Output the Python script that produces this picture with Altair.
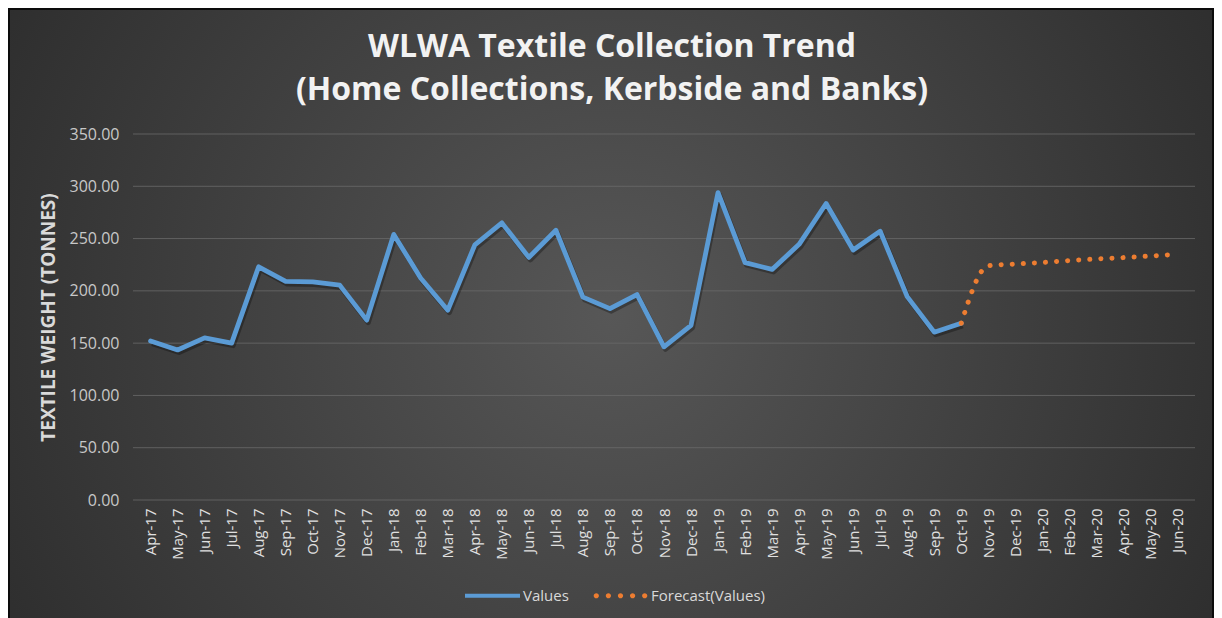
import altair as alt
import pandas as pd

months = ["Apr-17","May-17","Jun-17","Jul-17","Aug-17","Sep-17","Oct-17","Nov-17","Dec-17",
          "Jan-18","Feb-18","Mar-18","Apr-18","May-18","Jun-18","Jul-18","Aug-18","Sep-18",
          "Oct-18","Nov-18","Dec-18","Jan-19","Feb-19","Mar-19","Apr-19","May-19","Jun-19",
          "Jul-19","Aug-19","Sep-19","Oct-19","Nov-19","Dec-19","Jan-20","Feb-20","Mar-20",
          "Apr-20","May-20","Jun-20"]

values = [152, 143.5, 155, 150, 223, 209, 208.5, 205.5, 172, 254, 212, 181.5, 244, 265, 232,
          258, 194, 183, 196.5, 146.5, 167, 294, 227, 220.5, 244.5, 283.5, 239, 257, 194.5,
          160.5, 169]

forecast = [169, 224, 225.7, 227.2, 229, 230.5, 231.8, 233.3, 235]

grid_values = [0, 50, 100, 150, 200, 250, 300, 350]

series = ["Values", "Forecast(Values)"]
series_colors = ["#5b9bd5", "#ed7d31"]

W, H = 1062, 366
PAD = {"left": 125, "top": 126, "right": 19, "bottom": 118}
FONT = "Open Sans"

df_val = pd.DataFrame({"month": months[:len(values)], "value": values})
df_fc = pd.DataFrame({"month": months[len(values) - 1:], "value": forecast})
df_grid = pd.DataFrame({"value": grid_values})
df_leg = pd.DataFrame({"series": series})
df_bg = pd.DataFrame({"a": [0]})

yscale = alt.Scale(domain=[0, 350], nice=False, zero=True)
xscale = alt.Scale(domain=months, padding=0.65)

bg_grad = alt.RadialGradient(
    gradient="radial", x1=0.5, y1=0.5, r1=0, x2=0.5, y2=0.5, r2=0.72,
    stops=[alt.GradientStop(offset=0, color="#575757"),
           alt.GradientStop(offset=1, color="#232323")])

bg = alt.Chart(df_bg).mark_rect(fill=bg_grad, stroke="#0c0c0c", strokeWidth=2).encode(
    x=alt.value(-PAD["left"] + 1), x2=alt.value(W + PAD["right"] - 1),
    y=alt.value(-PAD["top"] + 1), y2=alt.value(H + PAD["bottom"] + 2))

yaxis = alt.Axis(format=".2f", values=grid_values, grid=False, ticks=False, domain=False,
                 labelPadding=14, labelFont=FONT, labelFontSize=16, labelColor="#c8c8c8",
                 title="TEXTILE WEIGHT (TONNES)", titleFont=FONT, titleFontSize=19,
                 titleFontWeight="bold", titleColor="#d9d9d9", titleX=-85, titleY=H / 2,
                 titleAngle=270, titleAlign="center", titleBaseline="middle", zindex=2)
xaxis = alt.Axis(labelAngle=270, ticks=False, domain=False, grid=False, labelPadding=8,
                 labelFont=FONT, labelFontSize=15, labelColor="#e0e0e0", title=None,
                 labelOverlap=False, zindex=2)

X = alt.X("month:O", scale=xscale, axis=xaxis, sort=months)
Y = alt.Y("value:Q", scale=yscale, axis=yaxis)

gridlines = alt.Chart(df_grid).mark_rule(color="#6a6a6a", strokeWidth=1, opacity=0.8).encode(y=Y)

shadow_val = alt.Chart(df_val).mark_line(color="#000000", opacity=0.3, strokeWidth=5,
                                         strokeJoin="round", xOffset=1.5, yOffset=2.5).encode(x=X, y=Y)

line_val = alt.Chart(df_val).mark_line(color=series_colors[0], strokeWidth=4.8,
                                       strokeJoin="round", strokeCap="round").encode(x=X, y=Y)

line_fc = alt.Chart(df_fc).mark_line(color=series_colors[1], strokeWidth=5, strokeCap="round",
                                     strokeDash=[0.1, 11], interpolate="monotone").encode(x=X, y=Y)

path_line = "M-1,-0.075 L1,-0.075 L1,0.075 L-1,0.075 Z"
def dot(cx, r=0.095):
    return f"M{cx - r:.3f},0 a{r},{r} 0 1,0 {2*r:.3f},0 a{r},{r} 0 1,0 {-2*r:.3f},0 Z "
path_dots = "".join(dot(c) for c in [-0.88, -0.44, 0, 0.44, 0.88])

legend = alt.Legend(title=None, orient="none", legendX=332, legendY=434, direction="horizontal",
                    symbolSize=3025, symbolOpacity=1, symbolStrokeWidth=0, labelOffset=3,
                    columnPadding=24, labelFont=FONT, labelFontSize=15, labelColor="#d9d9d9")

leg_pts = alt.Chart(df_leg).mark_point(filled=True, opacity=0, size=0).encode(
    color=alt.Color("series:N", scale=alt.Scale(domain=series, range=series_colors),
                    legend=legend, sort=series),
    shape=alt.Shape("series:N", scale=alt.Scale(domain=series, range=[path_line, path_dots]),
                    legend=legend, sort=series))

chart = alt.layer(bg, gridlines, shadow_val, line_val, line_fc, leg_pts).properties(
    width=W, height=H,
    autosize=alt.AutoSizeParams(type="none"),
    padding=PAD,
    background="#232323",
    title=alt.TitleParams(
        text=["WLWA Textile Collection Trend", "(Home Collections, Kerbside and Banks)"],
        font=FONT, fontSize=32, fontWeight="bold", color="#f2f2f2", anchor="middle",
        frame="group", dx=-52, lineHeight=43, offset=0, baseline="top", dy=99),
).configure_view(stroke=None)

chart.save("out.html", embed_options={"renderer": "svg", "actions": False})
